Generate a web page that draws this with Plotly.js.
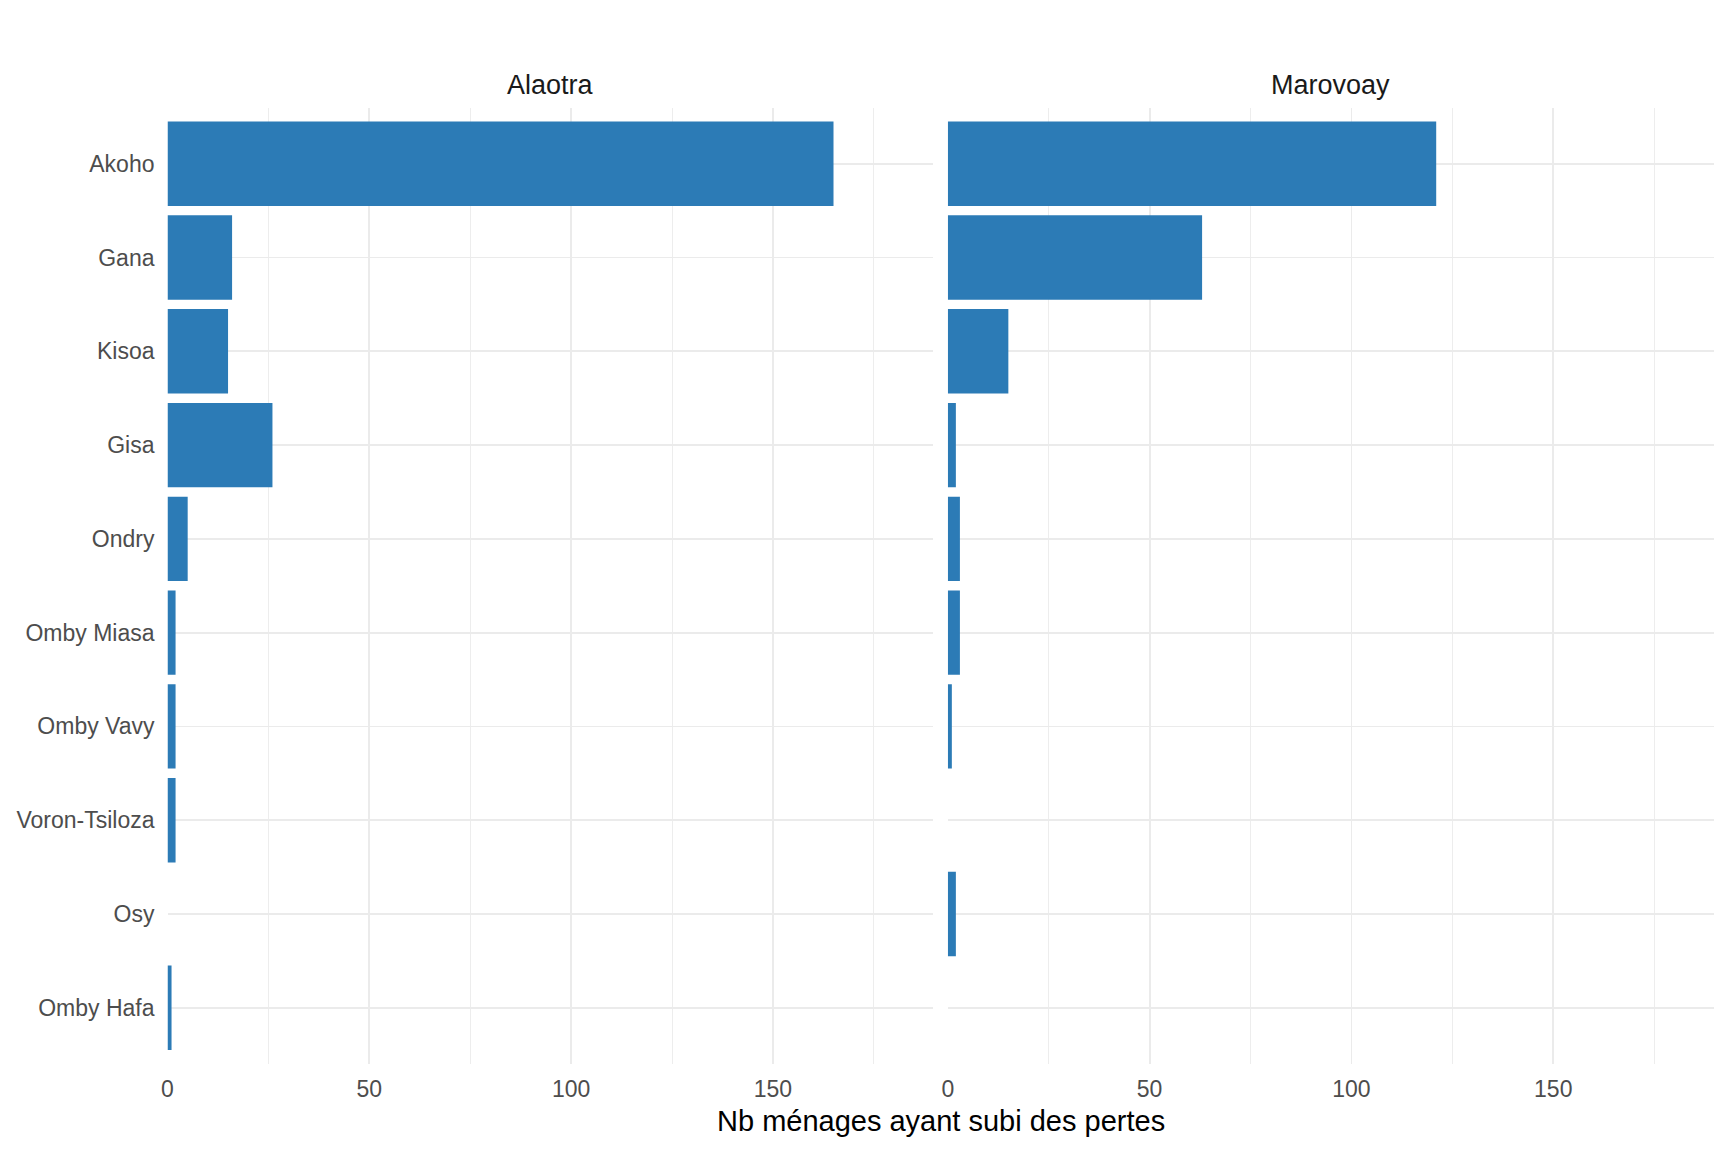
<!DOCTYPE html>
<html>
<head>
<meta charset="utf-8">
<script src="https://cdn.plot.ly/plotly-3.0.1.min.js"></script>
<style>html,body{margin:0;padding:0;background:#fff;}#chart{width:1728px;height:1152px;}</style>
</head>
<body>
<div id="chart"></div>
<script>
const categories = ["Akoho","Gana","Kisoa","Gisa","Ondry","Omby Miasa","Omby Vavy","Voron-Tsiloza","Osy","Omby Hafa"];
const alaotraValues = [165, 16, 15, 26, 5, 2, 2, 2, 0, 1];
const marovoayValues = [121, 63, 15, 2, 3, 3, 1, 0, 2, 0];
const panelTitles = ["Alaotra", "Marovoay"];
const xTickValues = [0, 50, 100, 150];
const xTitle = "Nb ménages ayant subi des pertes";

const W = 1728, H = 1152;
const barColor = "#2C7BB6";
const gridMajor = "#EBEBEB";
const fontFamily = "Liberation Sans, Arial, sans-serif";
const xRange = [0, 189.75];
const yRange = [9.6, -0.6];
const dom1 = [167.5 / W, 933.4 / W];
const dom2 = [947.8 / W, 1713.7 / W];
const yDom = [1 - 1064 / H, 1 - 107.5 / H];

const traces = [
  {type: "bar", orientation: "h", x: alaotraValues, y: categories, xaxis: "x", yaxis: "y",
   marker: {color: barColor, line: {width: 0}}, width: 0.9, hoverinfo: "x+y"},
  {type: "bar", orientation: "h", x: marovoayValues, y: categories, xaxis: "x2", yaxis: "y2",
   marker: {color: barColor, line: {width: 0}}, width: 0.9, hoverinfo: "x+y"}
];

function xAxis(domain, anchor) {
  return {
    domain: domain, anchor: anchor, range: xRange, autorange: false,
    tickmode: "array", tickvals: xTickValues, ticktext: xTickValues.map(String),
    showgrid: true, gridcolor: gridMajor, gridwidth: 1.8,
    minor: {tickmode: "array", tickvals: [25, 75, 125, 175], showgrid: true, gridcolor: gridMajor, gridwidth: 0.9, ticks: ""},
    zeroline: false, showline: false, ticks: "",
    ticklabelstandoff: 9,
    tickfont: {family: fontFamily, size: 23, color: "#4D4D4D"}
  };
}
function yAxis(anchor, showLabels) {
  return {
    domain: yDom, anchor: anchor, type: "category",
    categoryorder: "array", categoryarray: categories,
    range: yRange, autorange: false,
    showgrid: true, gridcolor: gridMajor, gridwidth: 1.8,
    zeroline: false, showline: false, ticks: "",
    showticklabels: showLabels, ticklabelstandoff: 12,
    tickfont: {family: fontFamily, size: 23, color: "#4D4D4D"}
  };
}

const layout = {
  width: W, height: H,
  margin: {l: 0, r: 0, t: 0, b: 0, pad: 0},
  paper_bgcolor: "#fff", plot_bgcolor: "#fff",
  showlegend: false, bargap: 0.1,
  xaxis: xAxis(dom1, "y"),
  xaxis2: xAxis(dom2, "y2"),
  yaxis: yAxis("x", true),
  yaxis2: yAxis("x2", false),
  annotations: [
    {text: panelTitles[0], xref: "paper", yref: "paper", x: (dom1[0] + dom1[1]) / 2, y: 1 - 85 / H,
     xanchor: "center", yanchor: "middle", showarrow: false, font: {family: fontFamily, size: 27, color: "#1A1A1A"}},
    {text: panelTitles[1], xref: "paper", yref: "paper", x: (dom2[0] + dom2[1]) / 2, y: 1 - 85 / H,
     xanchor: "center", yanchor: "middle", showarrow: false, font: {family: fontFamily, size: 27, color: "#1A1A1A"}},
    {text: xTitle, xref: "paper", yref: "paper", x: (dom1[0] + dom2[1]) / 2, y: 1 - 1121 / H,
     xanchor: "center", yanchor: "middle", showarrow: false, font: {family: fontFamily, size: 29, color: "#000000"}}
  ]
};

Plotly.newPlot("chart", traces, layout, {displayModeBar: false, staticPlot: true});
</script>
</body>
</html>
